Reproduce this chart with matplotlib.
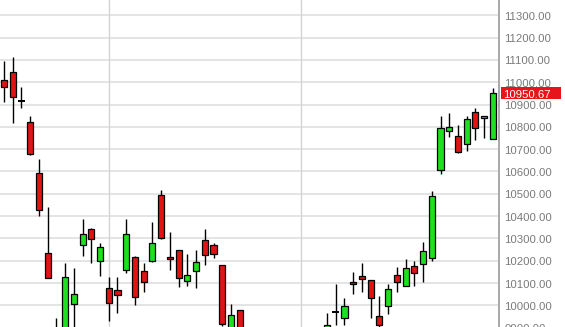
import matplotlib
matplotlib.use("Agg")
import matplotlib.pyplot as plt
import matplotlib.transforms as mtransforms
from matplotlib.patches import Rectangle
import numpy as np

# OHLC data (daily candles)
opens = [11010, 11048, 10920, 10820, 10595, 10236, 9890, 9860, 10004, 10270,
         10341, 10197, 10076, 10067, 10158, 10218, 10154, 10199, 10493, 10218,
         10248, 10110, 10154, 10293, 10272, 10179, 9870, 9979, 9860, 9800,
         9760, 9790, 9740, 9770, 9810, 9780, 9830, 9870, 9971, 9944,
         10106, 10131, 10112, 9953, 9997, 10135, 10087, 10178, 10184, 10211,
         10607, 10783, 10761, 10722, 10868, 10839, 10746]
highs = [11096, 11115, 10978, 10850, 10655, 10442, 9942, 10188, 10166, 10386,
         10345, 10278, 10126, 10126, 10386, 10220, 10188, 10375, 10517, 10330,
         10250, 10229, 10248, 10342, 10278, 10182, 10005, 9981, 9880, 9850,
         9820, 9840, 9800, 9830, 9860, 9850, 9880, 9964, 10097, 10034,
         10151, 10191, 10112, 10043, 10094, 10170, 10208, 10200, 10285, 10513,
         10849, 10864, 10809, 10849, 10886, 10850, 10973]
lows = [10912, 10816, 10883, 10675, 10402, 10122, 9760, 9820, 9880, 10221,
        10188, 10133, 9931, 9967, 10146, 10001, 10061, 10195, 10298, 10158,
        10081, 10088, 10076, 10179, 10211, 9905, 9840, 9830, 9780, 9740,
        9700, 9720, 9680, 9740, 9760, 9750, 9800, 9850, 9912, 9912,
        10049, 10058, 9942, 9900, 9961, 10061, 10087, 10087, 10106, 10199,
        10587, 10753, 10685, 10692, 10741, 10749, 10745]
closes = [10980, 10935, 10917, 10677, 10427, 10124, 9800, 10128, 10052, 10320,
          10296, 10261, 10012, 10046, 10320, 10036, 10106, 10278, 10300, 10206,
          10121, 10135, 10193, 10227, 10229, 9915, 9956, 9860, 9800, 9760,
          9790, 9740, 9770, 9810, 9780, 9830, 9860, 9912, 9971, 9998,
          10094, 10119, 10031, 9912, 10072, 10106, 10169, 10144, 10244, 10492,
          10794, 10801, 10686, 10834, 10794, 10849, 10950.67]
doji_idx = [2, 38]
month_breaks = [12, 34]
ytick_values = list(range(9900, 11400, 100))
ytick_labels = ["%.2f" % v for v in ytick_values]
last_price_label = "10950.67"

UP = "#1ee01e"
DOWN = "#e01414"

fig = plt.figure(figsize=(5.65, 3.27), dpi=100)
ax = fig.add_axes([0, 0, 499 / 565, 1])

n = len(opens)
x = np.arange(n)
o = np.array(opens, float)
c = np.array(closes, float)
h = np.array(highs, float)
l = np.array(lows, float)

# wicks
ax.vlines(x, l, h, color="black", linewidth=1.0, zorder=2)

# bodies
bottoms = np.minimum(o, c)
heights = np.abs(c - o)
for i in range(n):
    if i in doji_idx:
        ax.hlines(c[i], x[i] - 0.38, x[i] + 0.38, color="black", linewidth=1.4, zorder=3)
    else:
        col = UP if c[i] >= o[i] else DOWN
        ax.bar(x[i], heights[i], bottom=bottoms[i], width=0.7, color=col,
               edgecolor="black", linewidth=0.9, zorder=3)

# grid
for v in ytick_values:
    ax.axhline(v, color="#dcdcdc", linewidth=1.1, zorder=0)
for b in month_breaks:
    ax.axvline(b, color="#d4d4d4", linewidth=1.0, zorder=0)

ax.set_xlim(-0.458, 56.7)
ax.set_ylim(9902.7, 11369)

for s in ["top", "left", "bottom"]:
    ax.spines[s].set_visible(False)
ax.spines["right"].set_color("#a8a8a8")
ax.spines["right"].set_linewidth(1.4)

ax.set_xticks([])
ax.set_yticks([])

# right-side price labels (slightly below their grid lines, as in the reference)
trans = mtransforms.blended_transform_factory(ax.transAxes, ax.transData)
down = mtransforms.ScaledTranslation(0, -1.5 / 100, fig.dpi_scale_trans)
for v, lab in zip(ytick_values, ytick_labels):
    ax.text(1.0105, v, lab, transform=trans + down, ha="left", va="center",
            color="#7a7a7a", fontsize=8.2, family="Liberation Sans", clip_on=False)

# last price tag
last = closes[-1]
ax.add_patch(Rectangle((1.004, last - 26), 0.12, 52, transform=trans,
                       facecolor="#e8141c", edgecolor="none", clip_on=False, zorder=5))
ax.text(1.009, last, last_price_label, transform=trans + down, ha="left", va="center",
        color="white", fontsize=8.2, family="Liberation Sans", clip_on=False, zorder=6)

fig.savefig("out.png", dpi=100)
